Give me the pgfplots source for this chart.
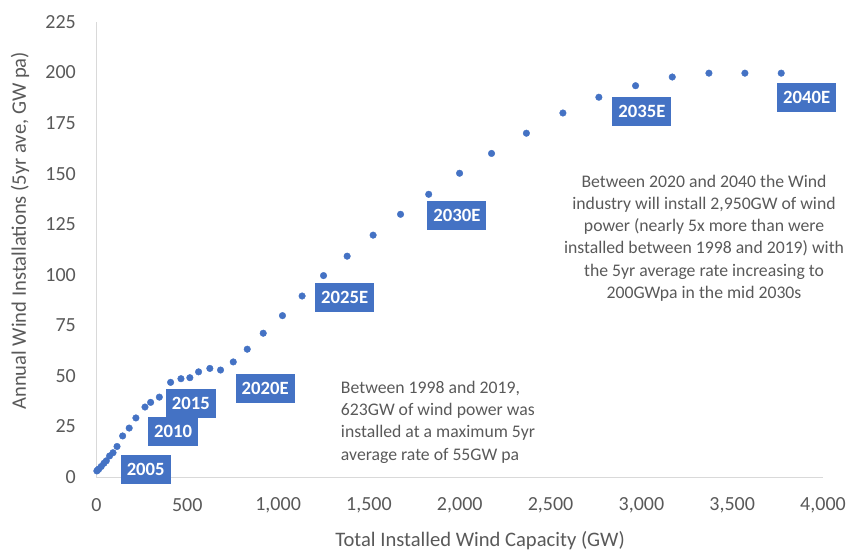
\documentclass[border=0pt]{standalone}
\usepackage{fontspec}
\setmainfont{Carlito}
\usepackage{pgfplots}
\pgfplotsset{compat=1.18}
\definecolor{dotblue}{HTML}{4472C4}
\definecolor{txtgray}{HTML}{595959}
\definecolor{axgray}{HTML}{D9D9D9}
\newcommand\cf{\fontsize{18.7bp}{22.4bp}\selectfont}
\newcommand\tf{\fontsize{20bp}{24bp}\selectfont}
\newcommand\af{\fontsize{20.6bp}{24.7bp}\selectfont}
\newcommand\nf{\fontsize{17.7bp}{22.2bp}\selectfont}
\tikzset{lbl/.style={fill=dotblue, text=white, font=\cf\bfseries, inner xsep=6bp, inner ysep=0pt, minimum height=29bp, anchor=center}}
\begin{document}
\begin{tikzpicture}
\useasboundingbox (-96.5bp,-74bp) rectangle (752.5bp,477bp);
\begin{axis}[
  at={(0,0)}, anchor=south west,
  scale only axis, width=726.5bp, height=455bp,
  xmin=0, xmax=4000, ymin=0, ymax=225,
  xtick={0,500,...,4000}, ytick={0,25,...,225},
  scaled ticks=false,
  axis lines*=left,
  axis line style={-, draw=axgray, line width=1bp},
  major tick length=0pt,
  tick style={draw=none},
  /pgf/number format/.cd, 1000 sep={,}, assume math mode=true,
  /pgfplots/.cd,
  xticklabel style={font=\tf, text=txtgray, anchor=center, yshift=-28bp},
  yticklabel style={font=\tf, text=txtgray, anchor=east, inner sep=0pt, xshift=-20.5bp},
  xlabel={Total Installed Wind Capacity (GW)},
  ylabel={Annual Wind Installations (5yr ave, GW pa)},
  xlabel style={font=\af, text=txtgray, at={(axis description cs:0.528,0)}, anchor=center, yshift=-64bp},
  ylabel style={font=\af, text=txtgray, at={(axis description cs:-0.1053,0.541)}, anchor=center},
  clip=false,
]
\addplot[only marks, mark=*, mark size=3.3bp, draw=dotblue, mark options={draw=dotblue, fill=dotblue}] coordinates {
(2,3.0) (6,3.4) (13,4.0) (26,5.2) (41,6.8) (54,8.0) (72,10.4) (91,12.0) (113,15.1)
(144,20.3) (180,24.2) (217,29.2) (267,34.6) (298,36.9) (346,39.5) (408,46.8)
(465,48.6) (514,49.1) (562,52.0) (624,53.7) (683,52.9) (753,56.9) (830,63.2)
(918,71.1) (1024,79.8) (1132,89.5) (1250,99.6) (1380,109.2) (1523,119.6)
(1674,129.9) (1829,139.8) (1999,150.2) (2175,160) (2367,170) (2568,180)
(2766,187.8) (2968,193.5) (3170,197.8) (3372,199.7) (3570,199.7) (3770,199.7)
};
\node[lbl] at (axis cs:271,3.7) {2005};
\node[lbl] at (axis cs:422,22.5) {2010};
\node[lbl] at (axis cs:519,36.4) {2015};
\node[lbl] at (axis cs:929,43.8) {2020E};
\node[lbl] at (axis cs:1366,88.8) {2025E};
\node[lbl] at (axis cs:1984,129.2) {2030E};
\node[lbl] at (axis cs:3003,180.8) {2035E};
\node[lbl] at (axis cs:3910,187.7) {2040E};
\node[anchor=north west, inner sep=0pt, align=left, font=\nf, text=txtgray] at (axis cs:1345,47.5)
 {Between 1998 and 2019,\\623GW of wind power was\\installed at a maximum 5yr\\average rate of 55GW pa};
\node[anchor=north, inner sep=0pt, align=center, font=\nf, text=txtgray] at (axis cs:3345,149.4)
 {Between 2020 and 2040 the Wind\\industry will install 2,950GW of wind\\power (nearly 5x more than were\\installed between 1998 and 2019) with\\the 5yr average rate increasing to\\200GWpa in the mid 2030s};
\end{axis}
\end{tikzpicture}
\end{document}
